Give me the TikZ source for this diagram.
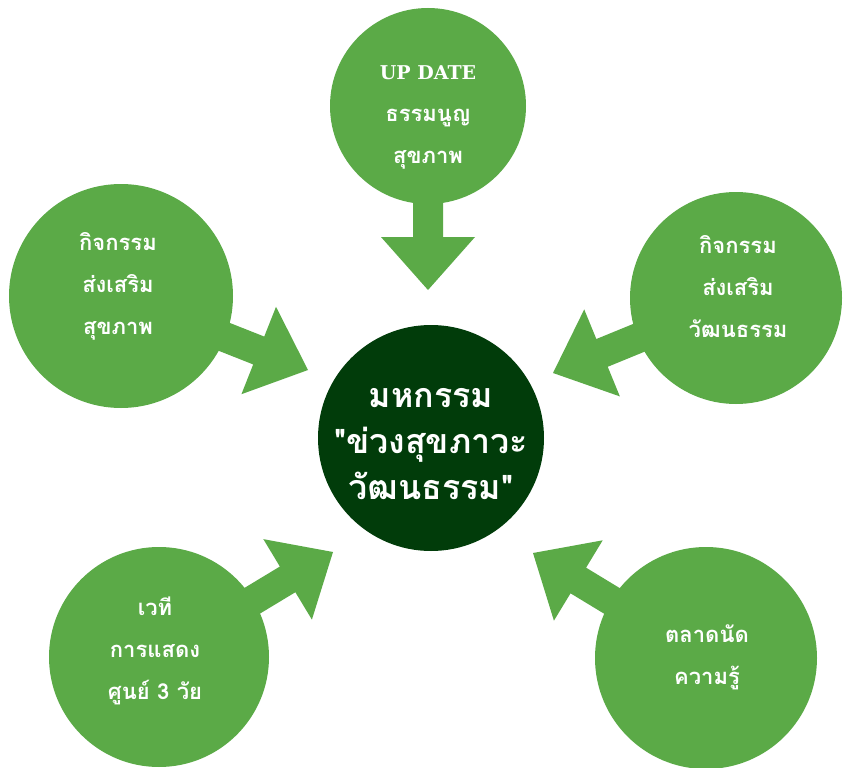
\documentclass[tikz,border=0pt]{standalone}
\usepackage{fontspec}
\newfontfamily\thaifont[Script=Thai]{Loma}
\newfontfamily\latinserif{DejaVu Serif}
\usetikzlibrary{calc,backgrounds}
\definecolor{leaf}{HTML}{5BAA47}
\definecolor{forest}{HTML}{013C0A}
\tikzset{
  bubble/.style={circle,fill=leaf,inner sep=0pt,minimum size=#1},
  hub/.style={circle,fill=forest,inner sep=0pt,minimum size=226pt},
  bubbletext/.style={text=white,align=center,inner sep=0pt,font=\thaifont\bfseries\fontsize{22}{42}\selectfont},
  hubtext/.style={text=white,align=center,inner sep=0pt,font=\thaifont\bfseries\fontsize{34}{46}\selectfont},
}
\newcommand\blockarrow[2]{%
  \fill[leaf] let \p1=($(#2)-(#1)$), \n1={atan2(\y1,\x1)}, \n2={veclen(\x1,\y1)} in
    [shift={(#2)},rotate=\n1] (0,0) -- (-53,-47) -- (-53,-15) -- (-\n2,-15)
    -- (-\n2,15) -- (-53,15) -- (-53,47) -- cycle;}
\begin{document}
\begin{tikzpicture}[x=1pt,y=-1pt]
\useasboundingbox (0,0) rectangle (844,768);
% circles
\node[hub] (hubc) at (431,438) {};
\node[bubble=196pt] (top) at (428,106) {};
\node[bubble=224pt] (tl) at (121,296) {};
\node[bubble=212pt] (tr) at (736,298) {};
\node[bubble=220pt] (bl) at (159,657) {};
\node[bubble=222pt] (br) at (706,658) {};
% arrow tips
\coordinate (ttop) at (428,290);
\coordinate (ttl) at (308,370);
\coordinate (ttr) at (553,373);
\coordinate (tbl) at (333,552);
\coordinate (tbr) at (533,553);
\begin{scope}[on background layer]
  \fill[white] (0,0) rectangle (844,768);
  \blockarrow{top.center}{ttop}
  \blockarrow{tl.center}{ttl}
  \blockarrow{tr.center}{ttr}
  \blockarrow{bl.center}{tbl}
  \blockarrow{br.center}{tbr}
\end{scope}
% texts
\node[hubtext] (hubtx) at (431,444) {มหกรรม\\"ข่วงสุขภาวะ\\วัฒนธรรม"};
\node[bubbletext] (toptx) at (428,117) {{\latinserif\bfseries\fontsize{19}{42}\selectfont UP DATE}\\ธรรมนูญ\\สุขภาพ};
\node[bubbletext] (tltx) at (118,286) {กิจกรรม\\ส่งเสริม\\สุขภาพ};
\node[bubbletext] (trtx) at (738,287) {กิจกรรม\\ส่งเสริม\\วัฒนธรรม};
\node[bubbletext] (bltx) at (155,651) {เวที\\การแสดง\\ศูนย์ 3 วัย};
\node[bubbletext] (brtx) at (707,657) {ตลาดนัด\\ความรู้};
\end{tikzpicture}
\end{document}
